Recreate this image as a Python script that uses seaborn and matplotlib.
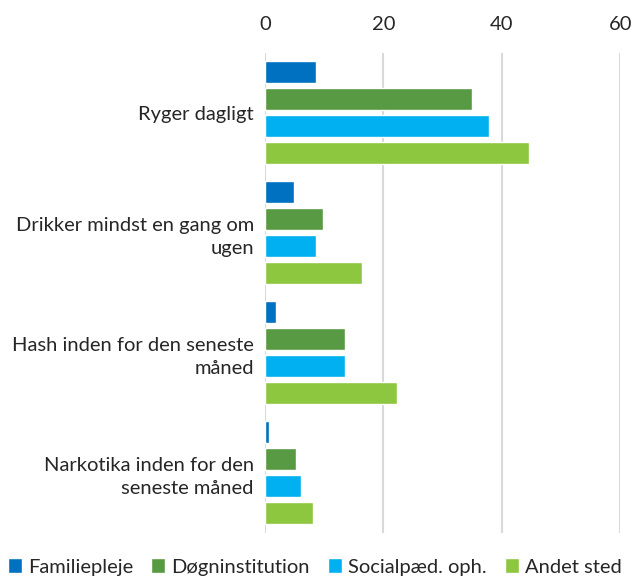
import pandas as pd
import matplotlib.pyplot as plt
import seaborn as sns

categories = [
    "Ryger dagligt",
    "Drikker mindst en gang om\nugen",
    "Hash inden for den seneste\nmåned",
    "Narkotika inden for den\nseneste måned",
]
series = ["Familiepleje", "Døgninstitution", "Socialpæd. oph.", "Andet sted"]
familiepleje = [8.6, 4.9, 1.9, 0.7]
dogninstitution = [34.9, 9.8, 13.5, 5.3]
socialpaed = [37.8, 8.6, 13.5, 6.1]
andet_sted = [44.6, 16.3, 22.2, 8.1]
colors = ["#0070C0", "#589A43", "#00B0F0", "#8DC63F"]

values = [familiepleje, dogninstitution, socialpaed, andet_sted]
rows = []
for s, vals in zip(series, values):
    for c, v in zip(categories, vals):
        rows.append({"kategori": c, "gruppe": s, "pct": v})
df = pd.DataFrame(rows)

sns.set_style("white")
plt.rcParams["font.family"] = ["Lato", "DejaVu Sans"]
plt.rcParams["font.size"] = 14.5

fig = plt.figure(figsize=(6.33, 5.77), dpi=100)
ax = fig.add_axes([0.4186, 0.0771, 0.5616, 0.8319])

sns.barplot(data=df, y="kategori", x="pct", hue="gruppe", order=categories,
            hue_order=series, palette=colors, orient="h", width=0.9, gap=0.2,
            saturation=1, ax=ax, legend=True)

ax.set_xlim(0, 60)
ax.set_ylim(3.5, -0.5)
ax.set_xticks([0, 20, 40, 60])
ax.xaxis.tick_top()
ax.tick_params(axis="x", length=0, pad=14, labelsize=14.5, colors="#262626")
ax.tick_params(axis="y", length=0, pad=8, labelsize=14.5, colors="#262626")
for lab in ax.get_yticklabels():
    lab.set_linespacing(1.45)
ax.grid(axis="x", color="#d9d9d9", linewidth=1.5)
ax.set_axisbelow(True)
for sp in ax.spines.values():
    sp.set_visible(False)
ax.set_xlabel("")
ax.set_ylabel("")

handles, labels = ax.get_legend_handles_labels()
ax.get_legend().remove()
fig.legend(handles, labels, loc="center", bbox_to_anchor=(0.497, 1 - 567 / 577),
           ncol=4, frameon=False, fontsize=14.5, handlelength=0.7, handleheight=0.7,
           handletextpad=0.3, columnspacing=0.9, labelcolor="#262626",
           borderaxespad=0, borderpad=0)

fig.savefig("out.png", dpi=100)
